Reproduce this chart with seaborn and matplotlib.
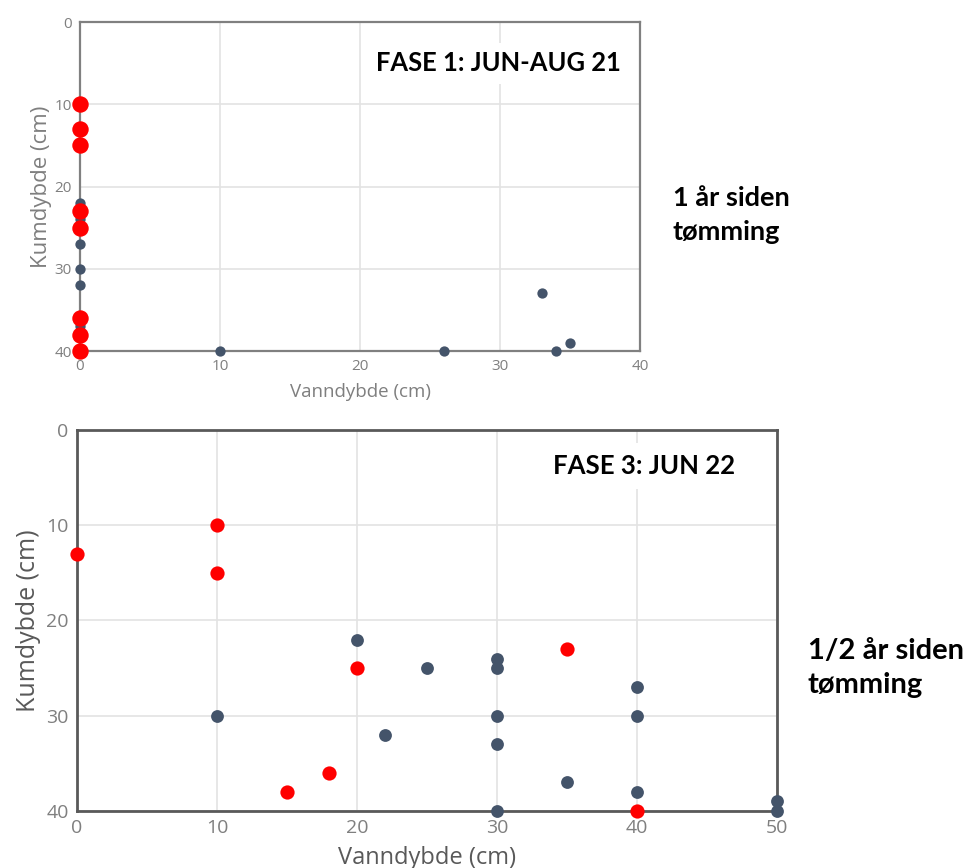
import matplotlib
matplotlib.use("Agg")
import matplotlib.pyplot as plt
import seaborn as sns
import pandas as pd

# ---- Data: FASE 1 (top) ----
f1_red_x = [0, 0, 0, 0, 0, 0, 0, 0]
f1_red_y = [10, 13, 15, 23, 25, 36, 38, 40]
f1_dark_x = [0, 0, 0, 0, 0, 0, 10, 26, 33, 34, 35]
f1_dark_y = [22, 24, 27, 30, 32, 37, 40, 40, 33, 40, 39]

# ---- Data: FASE 3 (bottom) ----
f3_red_x = [0, 10, 10, 20, 35, 15, 18, 40]
f3_red_y = [13, 10, 15, 25, 23, 38, 36, 40]
f3_dark_x = [20, 25, 30, 30, 40, 10, 30, 40, 22, 30, 35, 40, 30, 50, 50]
f3_dark_y = [22, 25, 24, 25, 27, 30, 30, 30, 32, 33, 37, 38, 40, 39, 40]

x_ticks_top = [0, 10, 20, 30, 40]
x_ticks_bottom = [0, 10, 20, 30, 40, 50]
y_ticks = [0, 10, 20, 30, 40]

title_top = "FASE 1: JUN-AUG 21"
title_bottom = "FASE 3: JUN 22"
side_top = "1 år siden\ntømming"
side_bottom = "1/2 år siden\ntømming"
xlabel = "Vanndybde (cm)"
ylabel = "Kumdybde (cm)"

RED = "#FF0000"
DARK = "#44546A"

sns.set_theme(style="white")
plt.rcParams["font.family"] = ["Open Sans", "DejaVu Sans"]

fig = plt.figure(figsize=(9.7, 8.68), dpi=100)

def build(red_x, red_y, dark_x, dark_y):
    d1 = pd.DataFrame({"x": dark_x, "y": dark_y, "g": "b"})
    d2 = pd.DataFrame({"x": red_x, "y": red_y, "g": "a"})
    return d1, d2

def style_axes(ax, xmax, xticks, tick_fs, xlabel_fs, ylabel_fs, tick_col, label_col,
               spine_col, spine_lw, xpad, ypad):
    ax.set_xlim(0, xmax)
    ax.set_ylim(40, 0)
    ax.set_xticks(xticks)
    ax.set_yticks(y_ticks)
    ax.grid(True, color="#E3E3E3", linewidth=1.2)
    ax.set_axisbelow(True)
    for s in ax.spines.values():
        s.set_color(spine_col)
        s.set_linewidth(spine_lw)
        s.set_visible(True)
    ax.tick_params(axis="both", length=0, labelsize=tick_fs, colors=tick_col, pad=6)
    ax.set_xlabel(xlabel, fontsize=xlabel_fs, color=label_col, labelpad=xpad)
    ax.set_ylabel(ylabel, fontsize=ylabel_fs, color=label_col, labelpad=ypad)
    if ax.get_legend() is not None:
        ax.get_legend().remove()

# Top axes
ax1 = fig.add_axes([0.0825, 0.5956, 0.5773, 0.3790])
d1, d2 = build(f1_red_x, f1_red_y, f1_dark_x, f1_dark_y)
sns.scatterplot(data=d1, x="x", y="y", color=DARK, s=55, linewidth=0, ax=ax1, clip_on=False, zorder=3)
sns.scatterplot(data=d2, x="x", y="y", color=RED, s=140, linewidth=0, ax=ax1, clip_on=False, zorder=4)
style_axes(ax1, 40, x_ticks_top, 11, 13.5, 16, "#7F7F7F", "#7F7F7F", "#808080", 1.6, 6, 2)
ax1.text(0.965, 0.875, title_top, transform=ax1.transAxes, ha="right", va="center",
         fontsize=18.4, fontweight="bold", family=["Lato", "DejaVu Sans"], color="black",
         bbox=dict(facecolor="white", edgecolor="none", pad=6), zorder=5)
fig.text(673 / 970, 1 - 215 / 868, side_top, ha="left", va="center", fontsize=19.5,
         fontweight="bold", family=["Lato", "DejaVu Sans"], color="black", linespacing=1.55)

# Bottom axes
ax2 = fig.add_axes([0.0794, 0.0657, 0.7216, 0.4389])
d1, d2 = build(f3_red_x, f3_red_y, f3_dark_x, f3_dark_y)
sns.scatterplot(data=d1, x="x", y="y", color=DARK, s=85, linewidth=0, ax=ax2, clip_on=False, zorder=3)
sns.scatterplot(data=d2, x="x", y="y", color=RED, s=105, linewidth=0, ax=ax2, clip_on=False, zorder=4)
style_axes(ax2, 50, x_ticks_bottom, 14, 17, 18, "#7F7F7F", "#595959", "#595959", 2.0, 6, 4)
ax2.text(0.94, 0.905, title_bottom, transform=ax2.transAxes, ha="right", va="center",
         fontsize=18.5, fontweight="bold", family=["Lato", "DejaVu Sans"], color="black",
         bbox=dict(facecolor="white", edgecolor="none", pad=8), zorder=5)
fig.text(808 / 970, 1 - 668 / 868, side_bottom, ha="left", va="center", fontsize=21,
         fontweight="bold", family=["Lato", "DejaVu Sans"], color="black", linespacing=1.35)

fig.savefig("out.png", dpi=100, facecolor="white")
